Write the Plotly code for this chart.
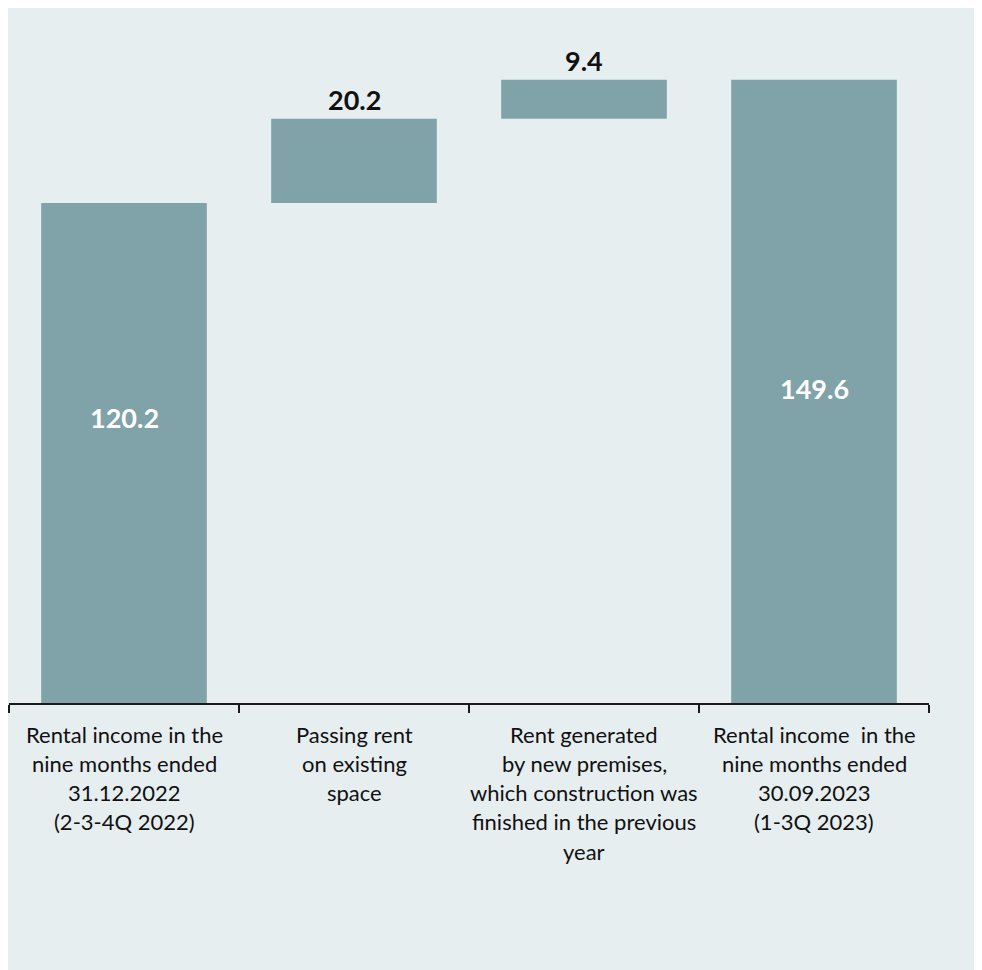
import plotly.graph_objects as go

# category labels (line breaks as in the original chart)
categories = [
    "Rental income in the\nnine months ended\n31.12.2022\n(2-3-4Q 2022)",
    "Passing rent\non existing\nspace",
    "Rent generated\nby new premises,\nwhich construction was\nfinished in the previous\nyear",
    "Rental income  in the\nnine months ended\n30.09.2023\n(1-3Q 2023)",
]
values = [120.2, 20.2, 9.4, 149.6]
measures = ["absolute", "relative", "relative", "total"]
value_labels = ["120.2", "20.2", "9.4", "149.6"]

BAR = "#7fa3a8"
BG = "#e6eef0"
FONT = "Lato, Calibri, sans-serif"

fig = go.Figure(go.Waterfall(
    x=categories,
    y=values,
    measure=measures,
    increasing=dict(marker=dict(color=BAR, line=dict(width=0))),
    decreasing=dict(marker=dict(color=BAR, line=dict(width=0))),
    totals=dict(marker=dict(color=BAR, line=dict(width=0))),
    connector=dict(visible=False),
    hoverinfo="skip",
))

# running totals for label placement
tops, run = [], 0
for v, m in zip(values, measures):
    if m == "absolute":
        run = v
    elif m == "relative":
        run += v
    tops.append(run if m != "total" else v)

annotations = []
for i, (cat, lab, m) in enumerate(zip(categories, value_labels, measures)):
    if m == "relative":
        annotations.append(dict(x=cat, y=tops[i], text=f"<b>{lab}</b>", showarrow=False,
                                yanchor="bottom", yshift=1,
                                font=dict(family=FONT, size=27, color="#111111")))
    else:
        annotations.append(dict(x=cat, y=tops[i] / 2, text=f"<b>{lab}</b>", showarrow=False,
                                yanchor="middle", yshift=35 if i == 0 else 3,
                                font=dict(family=FONT, size=27, color="white")))
    for j, line in enumerate(cat.split("\n")):
        annotations.append(dict(x=cat, y=0, text=line, showarrow=False,
                                yanchor="middle", yshift=-(31 + j * 29.3),
                                font=dict(family=FONT, size=22, color="#111111")))

# page body adds an 8px offset, so the figure is sized to fill the rest of the window
fig.update_layout(
    width=974, height=962,
    margin=dict(l=1, r=53, t=1, b=267),
    paper_bgcolor=BG, plot_bgcolor=BG,
    waterfallgap=0.28,
    showlegend=False,
    annotations=annotations,
    xaxis=dict(type="category", tickson="boundaries", ticks="outside", ticklen=8,
               tickwidth=1.5, tickcolor="#1a1a1a", showticklabels=False,
               showline=True, linecolor="#1a1a1a", linewidth=2, showgrid=False),
    yaxis=dict(range=[0, 166.8], visible=False, showgrid=False, zeroline=False),
)

fig.write_html("out.html")
